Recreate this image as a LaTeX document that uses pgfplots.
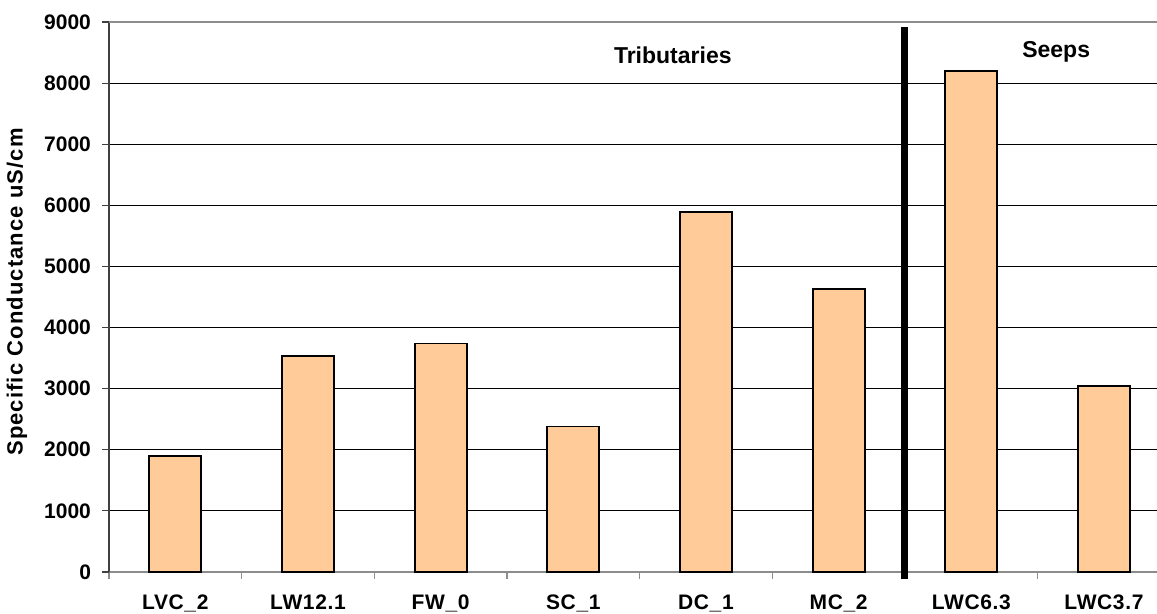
\documentclass[border=0pt]{standalone}
\usepackage{fontspec}
\setmainfont{Liberation Sans}
\usepackage{pgfplots}
\pgfplotsset{compat=1.18}
\definecolor{barfill}{HTML}{FFCC99}
\begin{document}
\begin{tikzpicture}
\begin{axis}[
  name=ax,
  scale only axis, width=524pt, height=275pt,
  xmin=-0.5, xmax=7.40, ymin=0, ymax=9000,
  clip=false,
  axis x line*=bottom, axis y line*=left,
  every outer x axis line/.append style={-},
  every outer y axis line/.append style={-},
  x axis line style={color=black!45, line width=0.6pt},
  y axis line style={color=black!75, line width=0.8pt},
  xtick={0,1,...,7},
  xticklabels={LVC\_2,LW12.1,FW\_0,SC\_1,DC\_1,MC\_2,LWC6.3,LWC3.7},
  major x tick style={draw=none},
  minor xtick={-0.5,0.5,...,6.5},
  minor x tick style={color=black!45, line width=0.6pt},
  minor tick length=3.5pt,
  ytick={0,1000,...,9000},
  y tick style={color=black!75, line width=0.6pt},
  major tick length=3.5pt,
  tick align=outside,
  ymajorgrids,
  grid style={black, line width=0.5pt},
  /pgf/number format/assume math mode=true,
  /pgf/number format/1000 sep={},
  yticklabel style={font=\fontsize{10.5}{12}\selectfont\bfseries, xshift=-2pt},
  xticklabel style={font=\fontsize{10.5}{12}\selectfont\bfseries\addfontfeature{LetterSpace=3}, yshift=-4.5pt},
  ylabel={Specific Conductance uS/cm},
  every axis y label/.style={at={(rel axis cs:-0.0878,0.509)}, rotate=90, anchor=center,
    font=\fontsize{11}{13}\selectfont\bfseries\addfontfeature{LetterSpace=5}},
]
\addplot[ybar, bar width=26pt, fill=barfill, draw=black, line width=0.9pt]
  coordinates {(0,1900) (1,3540) (2,3740) (3,2380) (4,5895) (5,4635) (6,8200) (7,3040)};
\addplot[black!45, line width=0.8pt, forget plot] coordinates {(-0.5,9000) (7.40,9000)};
\addplot[black, line width=3.5pt, forget plot] coordinates {(5.5,-120) (5.5,8920)};
\node[font=\fontsize{11.5}{13}\selectfont\bfseries] at (axis cs:3.75,8460) {Tributaries};
\node[font=\fontsize{11.5}{13}\selectfont\bfseries] at (axis cs:6.64,8510) {Seeps};
\end{axis}
\pgfresetboundingbox
\path ([xshift=-54.5pt,yshift=-21pt]ax.south west) rectangle ([yshift=11pt]ax.north east);
\end{tikzpicture}
\end{document}
